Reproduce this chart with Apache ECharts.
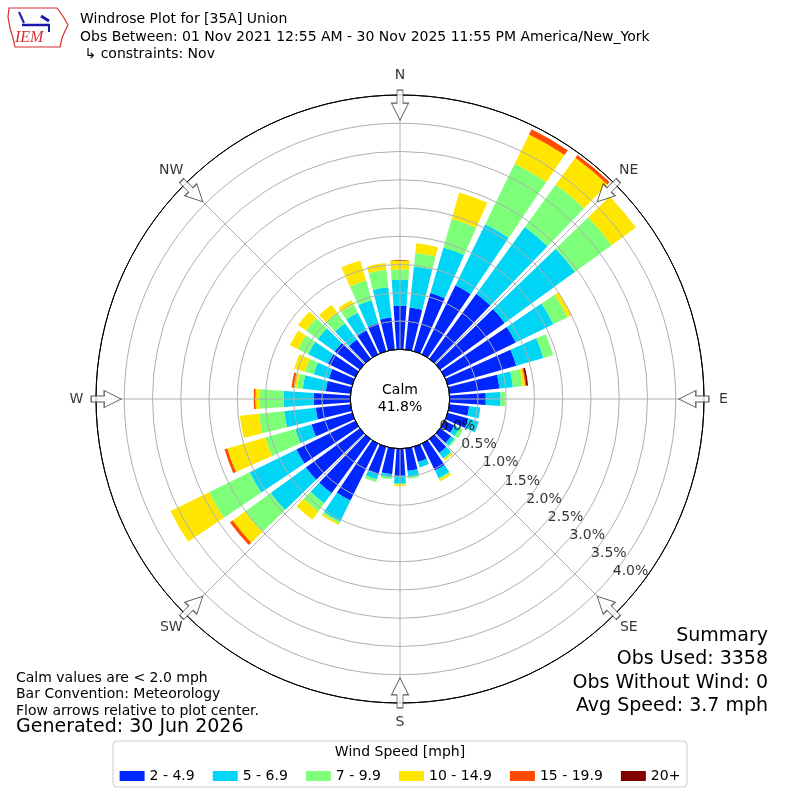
<!DOCTYPE html>
<html>
<head>
    <meta charset="utf-8">
    <title>Windrose</title>
    <script src="https://cdn.jsdelivr.net/npm/echarts@6/dist/echarts.min.js"></script>
</head>
<body style="margin:0;background:#fff;">
    <div id="main" style="width:800px;height:800px;"></div>
    <script type="text/javascript">
        // wind directions (deg, meteorological) and speed bins
        var directions = [0, 10, 20, 30, 40, 50, 60, 70, 80, 90, 100, 110, 120, 130, 140, 150, 160, 170,
                          180, 190, 200, 210, 220, 230, 240, 250, 260, 270, 280, 290, 300, 310, 320, 330, 340, 350];
        var speedBins = ['2 - 4.9', '5 - 6.9', '7 - 9.9', '10 - 14.9', '15 - 19.9', '20+'];
        var binColors = ['#0026ff', '#00d5f5', '#7dff7a', '#ffe600', '#ff4a00', '#7f0000'];

        // frequency (%) per direction for each speed bin
        var bin2to5 = [0.77, 0.75, 1.07, 1.36, 1.42, 1.41, 1.40, 1.26, 0.89, 0.64, 0.35, 0.38, 0.19, 0.24, 0.30, 0.53, 0.28, 0.40,
                       0.48, 0.46, 0.51, 1.12, 1.18, 1.18, 1.16, 0.75, 0.62, 0.65, 0.44, 0.43, 0.54, 0.55, 0.42, 0.47, 0.52, 0.57];
        var bin5to7 = [0.46, 0.73, 0.84, 1.20, 1.46, 1.54, 0.74, 0.50, 0.24, 0.26, 0.20, 0.19, 0.10, 0.07, 0.12, 0.15, 0.10, 0.11,
                       0.14, 0.06, 0.09, 0.41, 0.22, 0.77, 0.92, 0.30, 0.56, 0.53, 0.41, 0.28, 0.39, 0.37, 0.36, 0.35, 0.42, 0.54];
        var bin7to10 = [0.18, 0.24, 0.53, 1.19, 0.93, 0.80, 0.28, 0.18, 0.17, 0.08, 0, 0, 0.07, 0.03, 0.02, 0.02, 0, 0.03,
                        0.01, 0.03, 0.05, 0.04, 0.18, 0.56, 0.80, 0.55, 0.45, 0.42, 0.10, 0.16, 0.20, 0.26, 0.23, 0.16, 0.36, 0.31];
        var bin10to15 = [0.17, 0.17, 0.48, 0.58, 0.59, 0.53, 0.08, 0, 0.05, 0, 0, 0, 0, 0, 0.03, 0.04, 0, 0,
                         0.03, 0, 0, 0.03, 0.18, 0.27, 0.76, 0.70, 0.34, 0.08, 0.06, 0.20, 0.16, 0.17, 0.17, 0.09, 0.37, 0.12];
        var bin15to20 = [0, 0, 0, 0.10, 0.06, 0, 0, 0, 0.02, 0, 0, 0, 0, 0, 0, 0, 0, 0,
                         0, 0, 0, 0, 0, 0.06, 0, 0.05, 0, 0.03, 0.04, 0, 0, 0, 0, 0, 0, 0];
        var bin20plus = [0, 0, 0, 0, 0, 0, 0, 0, 0.03, 0, 0, 0, 0, 0, 0, 0, 0, 0,
                         0, 0, 0, 0, 0, 0, 0, 0, 0, 0, 0, 0, 0, 0, 0, 0, 0, 0];
        var binValues = [bin2to5, bin5to7, bin7to10, bin10to15, bin15to20, bin20plus];

        // ring ticks and compass labels
        var ringTicks = [0, 0.5, 1.0, 1.5, 2.0, 2.5, 3.0, 3.5, 4.0];
        var ringLabels = ['0.0%', '0.5%', '1.0%', '1.5%', '2.0%', '2.5%', '3.0%', '3.5%', '4.0%'];
        var compassAngles = [0, 45, 90, 135, 180, 225, 270, 315];
        var compassNames = ['N', 'NE', 'E', 'SE', 'S', 'SW', 'W', 'NW'];

        var FONT = 'DejaVu Sans';
        var center = [400, 399];
        var radius = [49.7, 304];
        var ringColors = ['#000'];
        for (var i = 1; i < 9; i++) ringColors.push('#b0b0b0');
        ringColors.push('#000');

        var arrowPath = 'path://M8.5,0 L17,17 L11.5,17 L11.5,30 L5.5,30 L5.5,17 L0,17 Z';

        var series = speedBins.map(function (name, i) {
            return {
                type: 'bar',
                name: name,
                coordinateSystem: 'polar',
                polarIndex: 1,
                stack: 'wind',
                barCategoryGap: '20%',
                data: binValues[i],
                itemStyle: { color: binColors[i] },
                silent: true,
                z: 2
            };
        });

        // flow arrows on the rim
        series.push({
            type: 'scatter',
            coordinateSystem: 'polar',
            polarIndex: 0,
            symbol: arrowPath,
            symbolSize: [17, 30],
            itemStyle: { color: '#fff', borderColor: '#333', borderWidth: 1 },
            data: compassAngles.map(function (d) {
                return { value: [4.32, d], symbolRotate: 180 - d };
            }),
            silent: true,
            z: 6
        });

        // compass labels outside the rim
        series.push({
            type: 'scatter',
            coordinateSystem: 'polar',
            polarIndex: 0,
            symbolSize: 1,
            itemStyle: { color: 'rgba(0,0,0,0)' },
            data: compassAngles.map(function (d, i) {
                var a = d * Math.PI / 180;
                return {
                    value: [4.5, d],
                    label: {
                        show: true,
                        formatter: compassNames[i],
                        position: 'inside',
                        offset: [19.5 * Math.sin(a), -19.5 * Math.cos(a)],
                        color: '#000',
                        fontSize: 14,
                        fontFamily: FONT
                    }
                };
            }),
            silent: true,
            z: 6
        });

        // ring value labels
        series.push({
            type: 'scatter',
            coordinateSystem: 'polar',
            polarIndex: 0,
            symbolSize: 1,
            itemStyle: { color: 'rgba(0,0,0,0)' },
            data: ringTicks.map(function (v, i) {
                return {
                    value: [v, 130],
                    label: {
                        show: true,
                        formatter: ringLabels[i],
                        position: [2, 3],
                        align: 'left',
                        verticalAlign: 'bottom',
                        color: '#000',
                        fontSize: 14,
                        fontFamily: FONT
                    }
                };
            }),
            silent: true,
            z: 7
        });

        var myChart = echarts.init(document.getElementById('main'));
        var option = {
            animation: false,
            backgroundColor: '#fff',
            title: {
                text: 'Windrose Plot for [35A] Union\nObs Between: 01 Nov 2021 12:55 AM - 30 Nov 2025 11:55 PM America/New_York\n \u21b3 constraints: Nov',
                left: 80,
                top: 11,
                padding: 0,
                textStyle: { fontSize: 14, fontWeight: 'normal', fontFamily: FONT, color: '#000', lineHeight: 17.5 }
            },
            legend: {
                data: speedBins,
                top: 764,
                left: 'center',
                icon: 'rect',
                itemWidth: 25,
                itemHeight: 10,
                itemGap: 18,
                selectedMode: false,
                textStyle: { fontSize: 14, fontFamily: FONT, color: '#000' }
            },
            polar: [
                { center: center, radius: radius },
                { center: center, radius: radius }
            ],
            angleAxis: [
                {
                    polarIndex: 0, type: 'value', min: 0, max: 360, interval: 45,
                    startAngle: 90, clockwise: true, z: 3,
                    axisLine: { show: true, lineStyle: { color: '#000', width: 1 } },
                    axisTick: { show: false },
                    axisLabel: { show: false },
                    splitLine: { show: true, lineStyle: { color: '#b0b0b0', width: 1 } }
                },
                {
                    polarIndex: 1, type: 'category', data: directions,
                    startAngle: 95, clockwise: true, boundaryGap: true,
                    axisLine: { show: false }, axisTick: { show: false },
                    axisLabel: { show: false }, splitLine: { show: false }
                }
            ],
            radiusAxis: [
                {
                    polarIndex: 0, type: 'value', min: 0, max: 4.5, interval: 0.5, z: 3,
                    axisLine: { show: false }, axisTick: { show: false }, axisLabel: { show: false },
                    splitLine: { show: true, lineStyle: { color: ringColors, width: 1 } }
                },
                {
                    polarIndex: 1, type: 'value', min: 0, max: 4.5,
                    axisLine: { show: false }, axisTick: { show: false }, axisLabel: { show: false },
                    splitLine: { show: false }
                }
            ],
            graphic: [
                // calm label
                { type: 'text', x: 400, y: 399, z: 10,
                  style: { text: 'Calm\n41.8%', font: '14px "DejaVu Sans"', fill: '#000',
                           align: 'center', verticalAlign: 'middle', textAlign: 'center', textVerticalAlign: 'middle', lineHeight: 17 } },
                // IEM logo
                { type: 'polygon', z: 10,
                  shape: { points: [[9, 8], [57, 8], [60, 12], [64, 18], [68, 25], [65, 31], [62, 38], [60, 47], [15, 47], [13, 38], [10, 28], [8, 17]] },
                  style: { fill: '#fff', stroke: '#d93030', lineWidth: 1.2 } },
                { type: 'line', z: 11, shape: { x1: 22, y1: 25, x2: 50, y2: 25 }, style: { stroke: '#1a1aa8', lineWidth: 2.5 } },
                { type: 'line', z: 11, shape: { x1: 19, y1: 12, x2: 24, y2: 23 }, style: { stroke: '#1a1aa8', lineWidth: 2 } },
                { type: 'line', z: 11, shape: { x1: 41, y1: 16, x2: 49, y2: 21 }, style: { stroke: '#1a1aa8', lineWidth: 3 } },
                { type: 'line', z: 11, shape: { x1: 49, y1: 25, x2: 49, y2: 32 }, style: { stroke: '#1a1aa8', lineWidth: 2 } },
                { type: 'text', x: 15, y: 30, z: 11,
                  style: { text: 'IEM', font: 'italic 16px "Liberation Serif"', fill: '#d93030' } },
                // notes bottom left
                { type: 'text', x: 16, y: 670, z: 10,
                  style: { text: 'Calm values are < 2.0 mph\nBar Convention: Meteorology\nFlow arrows relative to plot center.',
                           font: '14px "DejaVu Sans"', fill: '#000', lineHeight: 16.5 } },
                { type: 'text', x: 16, y: 718, z: 10,
                  style: { text: 'Generated: 30 Jun 2026', font: '19px "DejaVu Sans"', fill: '#000' } },
                // summary bottom right
                { type: 'text', x: 768, y: 624, z: 10,
                  style: { text: 'Summary\nObs Used: 3358\nObs Without Wind: 0\nAvg Speed: 3.7 mph',
                           font: '19px "DejaVu Sans"', fill: '#000', align: 'right', textAlign: 'right', lineHeight: 23.5 } },
                // legend frame
                { type: 'rect', z: -1, shape: { x: 113, y: 741, width: 574, height: 46, r: 4 },
                  style: { fill: '#fff', stroke: '#cccccc', lineWidth: 1 } },
                { type: 'text', x: 400, y: 752, z: 10,
                  style: { text: 'Wind Speed [mph]', font: '14px "DejaVu Sans"', fill: '#000',
                           align: 'center', verticalAlign: 'middle', textAlign: 'center', textVerticalAlign: 'middle' } }
            ],
            series: series
        };
        myChart.setOption(option);
    </script>
</body>
</html>
